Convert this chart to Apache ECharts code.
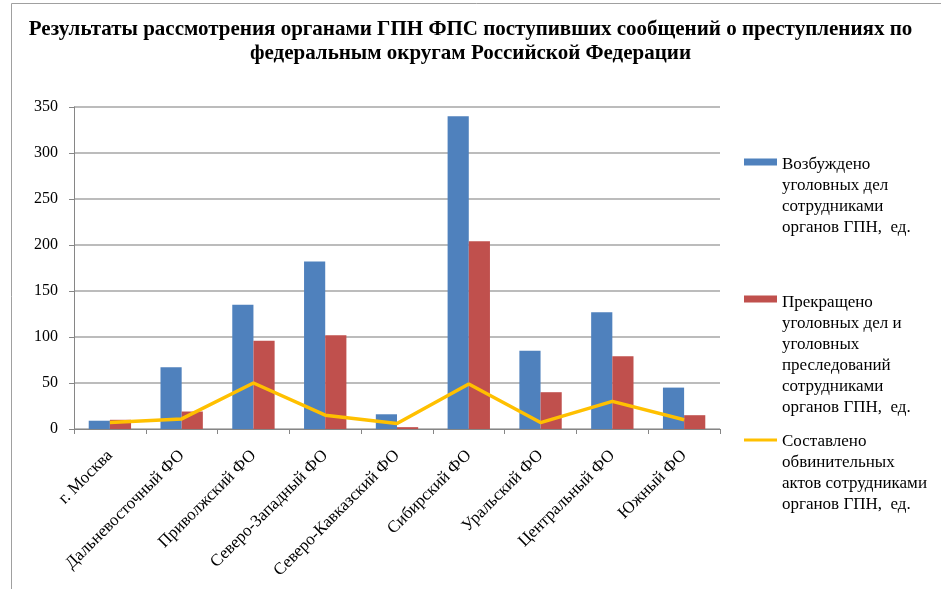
<!DOCTYPE html>
<html><head><meta charset="utf-8">
<script src="https://cdn.jsdelivr.net/npm/echarts@6/dist/echarts.min.js"></script>
<style>html,body{margin:0;padding:0;background:#fff}#c{width:941px;height:589px}</style>
</head><body><div id="c"></div>
<script>
const categories = ['г. Москва','Дальневосточный ФО','Приволжский ФО','Северо-Западный ФО','Северо-Кавказский ФО','Сибирский ФО','Уральский ФО','Центральный ФО','Южный ФО'];
const initiated = [9, 67, 135, 182, 16, 340, 85, 127, 45];
const terminated = [10, 19, 96, 102, 2, 204, 40, 79, 15];
const indictments = [7, 11, 50, 15, 6, 49, 7, 30, 10];
const yTicks = {min: 0, max: 350, interval: 50};
const seriesNames = [
  'Возбуждено\nуголовных дел\nсотрудниками\nорганов ГПН,  ед.',
  'Прекращено\nуголовных дел и\nуголовных\nпреследований\nсотрудниками\nорганов ГПН,  ед.',
  'Составлено\nобвинительных\nактов сотрудниками\nорганов ГПН,  ед.'
];
const titleText = 'Результаты рассмотрения органами ГПН ФПС поступивших сообщений о преступлениях по\nфедеральным округам Российской Федерации';

const SERIF = "'Liberation Serif','Times New Roman',serif";
const LH = 21;
// legend icon: a strip beside the first text line, with invisible extent down to the full text height
function legendFor(idx, firstLineCenter, stripTop, stripH) {
  const n = seriesNames[idx].split('\n').length;
  const H = n * LH;
  const icon = 'path://M0,0L0.01,0 M0,' + stripTop + 'H33V' + (stripTop + stripH) + 'H0Z M0,' + H + 'L0.01,' + H;
  return {
    data: [{name: seriesNames[idx], icon: icon}], orient: 'vertical', left: 744, top: firstLineCenter - LH / 2, padding: 0,
    itemWidth: 33, itemHeight: H, selectedMode: false, itemStyle: {borderWidth: 0},
    textStyle: {fontFamily: SERIF, fontSize: 17, color: '#000', lineHeight: LH}
  };
}
const chart = echarts.init(document.getElementById('c'));
chart.setOption({
  animation: false,
  backgroundColor: '#fff',
  graphic: [{type: 'rect', left: 9, top: 1, shape: {width: 1000, height: 1000}, style: {fill: 'none', stroke: '#a0a0a0', lineWidth: 1}, silent: true}],
  title: {text: titleText, left: 'center', top: 18, padding: 0,
    textStyle: {fontFamily: SERIF, fontWeight: 'bold', fontSize: 21, color: '#000', lineHeight: 24}},
  legend: [legendFor(0, 165, 4, 7), legendFor(1, 303, 3, 7), legendFor(2, 442, 7, 3)],
  grid: {left: 74, right: 221, top: 107, bottom: 160},
  xAxis: {type: 'category', data: categories,
    axisLine: {lineStyle: {color: '#868686', width: 1}},
    axisTick: {show: true, length: 5, lineStyle: {color: '#868686'}},
    axisLabel: {rotate: 45, margin: 24, fontFamily: SERIF, fontSize: 17, color: '#000', interval: 0}},
  yAxis: {type: 'value', min: yTicks.min, max: yTicks.max, interval: yTicks.interval,
    axisLine: {show: true, lineStyle: {color: '#868686', width: 1}},
    axisTick: {show: true, length: 5, lineStyle: {color: '#868686'}},
    splitLine: {lineStyle: {color: '#a6a6a6', width: 1.5}},
    axisLabel: {margin: 16, fontFamily: SERIF, fontSize: 16, color: '#000'}},
  series: [
    {name: seriesNames[0], type: 'bar', data: initiated, barGap: '0%', barCategoryGap: '41%', itemStyle: {color: '#4f81bd'}},
    {name: seriesNames[1], type: 'bar', data: terminated, barGap: '0%', barCategoryGap: '41%', itemStyle: {color: '#c0504d'}},
    {name: seriesNames[2], type: 'line', data: indictments, symbol: 'none', z: 5,
      lineStyle: {color: '#ffc000', width: 3.5}, itemStyle: {color: '#ffc000'}}
  ]
});
</script></body></html>
